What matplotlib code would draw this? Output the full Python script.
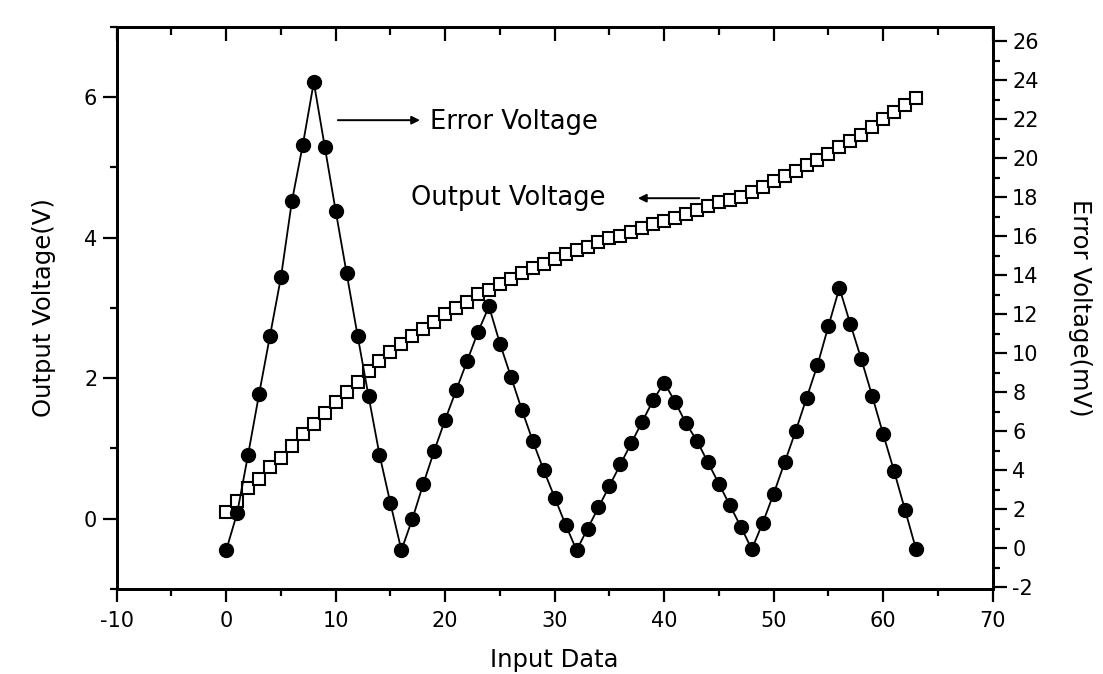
import numpy as np
import matplotlib
matplotlib.use("Agg")
import matplotlib.pyplot as plt
from matplotlib.ticker import MultipleLocator

# input code 0..63
input_data = list(range(64))

# output voltage (V), left axis, open squares
output_v = [0.10, 0.25, 0.43, 0.57, 0.73, 0.87, 1.03, 1.20, 1.35, 1.51,
            1.66, 1.80, 1.95, 2.10, 2.25, 2.37, 2.49, 2.60, 2.70, 2.80,
            2.91, 3.00, 3.09, 3.19, 3.26, 3.34, 3.41, 3.49, 3.56, 3.62,
            3.69, 3.76, 3.82, 3.87, 3.93, 3.99, 4.02, 4.08, 4.13, 4.20,
            4.23, 4.28, 4.34, 4.39, 4.45, 4.50, 4.53, 4.58, 4.65, 4.72,
            4.80, 4.88, 4.95, 5.03, 5.10, 5.19, 5.29, 5.37, 5.46, 5.57,
            5.68, 5.78, 5.88, 5.98]

# error voltage (mV), right axis, filled circles
error_mv = [-0.1, 1.8, 4.8, 7.9, 10.9, 13.9, 17.8, 20.7, 23.9, 20.6,
            17.3, 14.1, 10.9, 7.8, 4.8, 2.3, -0.1, 1.5, 3.3, 5.0,
            6.6, 8.1, 9.6, 11.1, 12.4, 10.5, 8.8, 7.1, 5.5, 4.0,
            2.6, 1.2, -0.1, 1.0, 2.1, 3.2, 4.3, 5.4, 6.5, 7.6,
            8.5, 7.5, 6.4, 5.5, 4.4, 3.3, 2.2, 1.1, -0.05, 1.3,
            2.8, 4.4, 6.0, 7.7, 9.4, 11.4, 13.35, 11.5, 9.7, 7.8,
            5.85, 3.95, 1.95, -0.05]

plt.rcParams['font.family'] = 'DejaVu Sans'
plt.rcParams['axes.unicode_minus'] = False

fig = plt.figure(figsize=(11.03, 6.74), dpi=100)
ax = fig.add_axes([0.1058, 0.1261, 0.9 - 0.1058, 0.9604 - 0.1261])
ax2 = ax.twinx()

ax.plot(input_data, output_v, ls='none', marker='s', ms=9, mfc='white',
        mec='black', mew=1.5)
ax2.plot(input_data, error_mv, color='black', lw=1.3, marker='o', ms=10,
         mfc='black', mec='black')

ax.set_xlim(-10, 70)
ax.set_ylim(-1.0, 7.0)
ax2.set_ylim(-2.09, 26.75)

for s in ['left', 'right', 'top', 'bottom']:
    ax.spines[s].set_linewidth(2.0)
    ax2.spines[s].set_linewidth(2.0)

ax.xaxis.set_major_locator(MultipleLocator(10))
ax.xaxis.set_minor_locator(MultipleLocator(5))
ax.yaxis.set_major_locator(MultipleLocator(2))
ax.yaxis.set_minor_locator(MultipleLocator(1))
ax2.yaxis.set_major_locator(MultipleLocator(2))
ax2.yaxis.set_minor_locator(MultipleLocator(1))

ax.tick_params(axis='x', which='major', direction='out', length=9, width=1.6,
               labelsize=15, pad=7, top=False)
ax.tick_params(axis='x', which='minor', direction='out', length=5, width=1.6,
               top=False)
ax.tick_params(axis='y', which='major', direction='out', length=10, width=1.6,
               labelsize=15, pad=4, right=False)
ax.tick_params(axis='y', which='minor', direction='out', length=5, width=1.6,
               right=False)
ax2.tick_params(axis='y', which='major', direction='out', length=10, width=1.6,
                labelsize=15, pad=4)
ax2.tick_params(axis='y', which='minor', direction='out', length=5, width=1.6)

# top axis ticks pointing inward
top = ax.secondary_xaxis('top')
top.xaxis.set_major_locator(MultipleLocator(10))
top.xaxis.set_minor_locator(MultipleLocator(5))
top.tick_params(axis='x', which='major', direction='in', length=10, width=1.6,
                labeltop=False)
top.tick_params(axis='x', which='minor', direction='in', length=6, width=1.6)
top.spines['top'].set_linewidth(2.0)

ax.set_xlabel('Input Data', fontsize=17.5, labelpad=12)
ax.set_ylabel('Output Voltage(V)', fontsize=17.5, labelpad=20)
ax2.set_ylabel('Error Voltage(mV)', fontsize=17.5, rotation=270, labelpad=38)

ax.annotate('', xy=(17.7, 5.67), xytext=(10.2, 5.67),
            arrowprops=dict(arrowstyle='-|>', color='black', lw=1.4,
                            mutation_scale=12, shrinkA=0, shrinkB=0))
ax.text(18.6, 5.64, 'Error Voltage', fontsize=18.5, va='center', ha='left')
ax.annotate('', xy=(37.6, 4.56), xytext=(43.2, 4.56),
            arrowprops=dict(arrowstyle='-|>', color='black', lw=1.4,
                            mutation_scale=12, shrinkA=0, shrinkB=0))
ax.text(16.85, 4.56, 'Output Voltage', fontsize=18.5, va='center', ha='left')

fig.savefig('out.png', dpi=100)
